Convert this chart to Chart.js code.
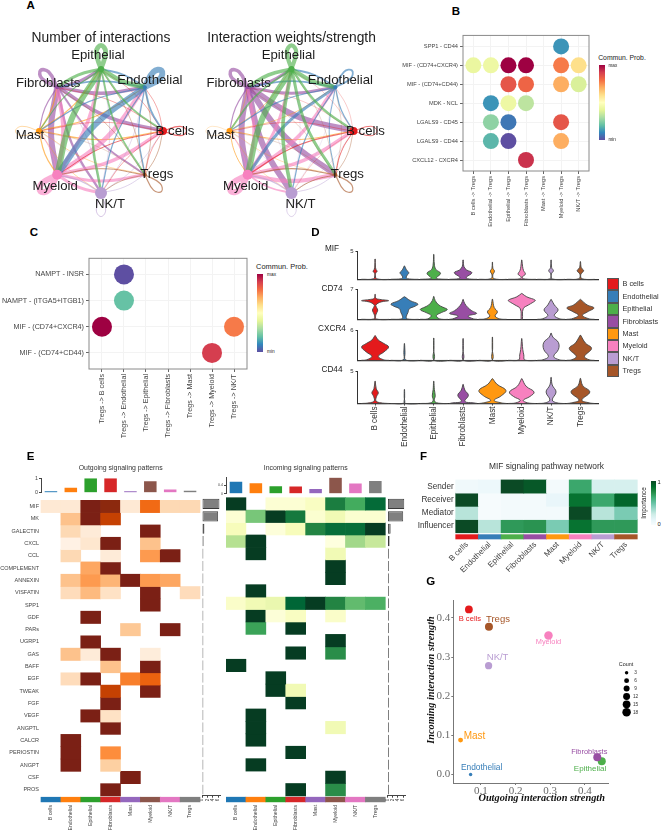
<!DOCTYPE html>
<html lang="en">
<head>
<meta charset="UTF-8">
<title>Treg communication panels</title>
<script src="https://cdn.jsdelivr.net/npm/chart.js"></script>
<style>
  html, body { margin: 0; background: #fff; }
  #page { position: relative; width: 661px; height: 831px; overflow: hidden; font-family: "Liberation Sans", Arial, sans-serif; color: #222; }
  #page canvas { position: absolute; }
  .t { position: absolute; white-space: nowrap; line-height: 1; transform: translate(-50%, -50%); }
  .l { position: absolute; white-space: nowrap; line-height: 1; transform: translateY(-50%); }
  .swatch { position: absolute; box-sizing: border-box; border: 1px solid #555; }
  .bar { position: absolute; }
</style>
</head>
<body>
<div id="page"></div>
<script>
// ---------- data ----------
const cellTypes = ['B cells', 'Endothelial', 'Epithelial', 'Fibroblasts', 'Mast', 'Myeloid', 'NK/T', 'Tregs'];
const cellColors = ['#e41a1c', '#377eb8', '#4daf4a', '#984ea3', '#ff9810', '#f781bf', '#b99dd2', '#a65628'];
const tableauColors = ['#1f77b4', '#ff7f0e', '#2ca02c', '#d62728', '#9467bd', '#8c564b', '#e377c2', '#7f7f7f'];

// panel A, nodes go clockwise from the top
const nodeNames = ['Epithelial', 'Endothelial', 'B cells', 'Tregs', 'NK/T', 'Myeloid', 'Mast', 'Fibroblasts'];
const nodeColors = ['#4daf4a', '#377eb8', '#e41a1c', '#a65628', '#b99dd2', '#f781bf', '#ff9810', '#984ea3'];
const nodeX = [0, 0.707, 1, 0.707, 0, -0.707, -1, -0.707];
const nodeY = [1, 0.707, 0, -0.707, -1, -0.707, 0, 0.707];
const nodeSizes = [3, 2, 4, 2, 6, 5, 3, 2];
const interactionCounts = [
  [4, 4, 1.5, 1.5, 2, 5, 1, 2.5],
  [1.5, 5, 1.5, 1, 1, 5, 1, 1.5],
  [.5, .5, 1, .5, .5, .8, .5, .5],
  [.5, .5, .6, 1, .6, .8, .3, .5],
  [.5, .5, .5, .6, .8, 1, .3, .5],
  [3, 4, 3, 2.5, 2.5, 5, .8, 3.5],
  [1, 1, 1, .5, .5, 1, .5, 1],
  [3, 3, 3, 1.5, 2, 5, 1, 3]
];
const interactionWeights = [
  [3.5, 3.5, 2, 2.5, 3, 5, 1.5, 3],
  [1.5, 1.5, 1, .8, 1, 2.5, 1, 1.5],
  [.3, .3, .8, .8, .3, 1, .5, .3],
  [.3, .3, .5, 1, .8, 1, .3, .3],
  [.3, .3, .3, .6, .6, 1, .3, .3],
  [2.5, 3, 3, 3.5, 1.5, 5, .8, 2.5],
  [.6, .6, .8, .4, .4, .8, .3, .5],
  [2.5, 2.5, 5, 5, 5, 5, 1, 3]
];

// panel B
const pairsB = ['SPP1 - CD44', 'MIF - (CD74+CXCR4)', 'MIF - (CD74+CD44)', 'MDK - NCL', 'LGALS9 - CD45', 'LGALS9 - CD44', 'CXCL12 - CXCR4'];
const sourcesB = ['B cells -> Tregs', 'Endothelial -> Tregs', 'Epithelial -> Tregs', 'Fibroblasts -> Tregs', 'Mast -> Tregs', 'Myeloid -> Tregs', 'NK/T -> Tregs'];
const probB = [
  [null, null, null, null, null, .12, null],
  [.42, .43, 1, 1, null, .78, .6],
  [null, null, .85, .82, null, .7, .38],
  [null, .12, .43, .33, null, null, null],
  [null, .26, .07, null, null, .85, null],
  [null, .18, 0, null, null, .7, null],
  [null, null, null, .92, null, null, null]
];

// panel C
const pairsC = ['NAMPT - INSR', 'NAMPT - (ITGA5+ITGB1)', 'MIF - (CD74+CXCR4)', 'MIF - (CD74+CD44)'];
const targetsC = ['Tregs -> B cells', 'Tregs -> Endothelial', 'Tregs -> Epithelial', 'Tregs -> Fibroblasts', 'Tregs -> Mast', 'Tregs -> Myeloid', 'Tregs -> NK/T'];
const probC = [
  [null, 0, null, null, null, null, null],
  [null, .2, null, null, null, null, null],
  [1, null, null, null, null, null, .78],
  [null, null, null, null, null, .9, null]
];

// panel D, each violin is a list of [expression, half width]
const violinMIF = [
  [[0, .47], [.12, .05], [.9, .012], [1.2, .03], [1.48, .07], [1.8, .03], [2.4, .01], [3.67, .004]],
  [[0, .47], [.12, .1], [.4, .06], [.8, .1], [1.2, .15], [1.7, .07], [2.43, .004]],
  [[0, .47], [.12, .1], [.3, .09], [1.1, .23], [1.8, .07], [2.76, .02], [4.5, .004]],
  [[0, .47], [.12, .15], [.38, .11], [1.2, .3], [1.7, .12], [2.3, .03], [3.5, .004]],
  [[0, .47], [.12, .05], [.8, .012], [1.48, .07], [2, .015], [3.1, .004]],
  [[0, .47], [.12, .04], [.5, .03], [.95, .125], [1.6, .06], [2.3, .03], [3.5, .004]],
  [[0, .47], [.12, .02], [1, .012], [1.57, .08], [2.1, .02], [3.5, .004]],
  [[0, .47], [.12, .05], [.9, .015], [1.57, .11], [2.1, .03], [3.2, .004]]
];
const violinCD74 = [
  [[0, .47], [.1, .04], [.94, .02], [1.6, .06], [2.2, .09], [2.8, .05], [3.4, .03], [4.1, .2], [4.4, .46], [4.7, .16], [4.95, .03], [5.9, .004]],
  [[0, .47], [.1, .1], [.6, .06], [1.6, .12], [2.5, .17], [3.1, .36], [3.6, .46], [4.4, .2], [5.3, .01]],
  [[0, .47], [.12, .2], [.9, .09], [1.6, .26], [2.3, .46], [2.9, .3], [3.4, .17], [4.4, .05], [5.4, .004]],
  [[0, .47], [.12, .35], [.8, .17], [1.4, .46], [2, .3], [2.8, .16], [3.8, .05], [4.7, .004]],
  [[0, .47], [.12, .25], [.8, .09], [1.75, .17], [2.8, .06], [4.75, .004]],
  [[0, .02], [2.5, .05], [3.4, .23], [4, .38], [4.5, .46], [5.3, .17], [6.1, .004]],
  [[0, .47], [.12, .3], [.94, .11], [2.2, .24], [3.4, .11], [4.7, .004]],
  [[0, .47], [.12, .3], [.94, .07], [1.8, .25], [2.7, .46], [3.4, .23], [4.7, .004]]
];
const violinCXCR4 = [
  [[0, .47], [.1, .3], [.8, .11], [1.7, .3], [2.7, .46], [3.4, .3], [4.1, .11], [5, .004]],
  [[0, .47], [.1, .04], [1.6, .02], [3.4, .004]],
  [[0, .47], [.08, .012], [2.5, .008], [4.5, .004]],
  [[0, .47], [.08, .012], [2.5, .008], [4.4, .004]],
  [[0, .47], [.08, .012], [2.5, .008], [4.7, .004]],
  [[0, .47], [.1, .1], [1.1, .07], [2.2, .035], [4.4, .004]],
  [[0, .47], [.12, .28], [.8, .09], [2.2, .25], [3.6, .25], [4.7, .06], [5.5, .004]],
  [[0, .47], [.12, .3], [.8, .14], [2.4, .38], [3.5, .17], [5.1, .004]]
];
const violinCD44 = [
  [[0, .47], [.1, .2], [.4, .03], [1.1, .05], [1.67, .11], [2.3, .04], [3.5, .004]],
  [[0, .47], [.08, .012], [1, .008], [2.2, .004]],
  [[0, .47], [.1, .1], [.5, .02], [1.2, .05], [2.2, .02], [3.5, .004]],
  [[0, .47], [.1, .35], [.33, .06], [1.3, .18], [2.1, .06], [3, .004]],
  [[0, .47], [.1, .3], [.5, .06], [1.2, .3], [2.05, .46], [3, .16], [3.9, .004]],
  [[0, .47], [.1, .2], [.5, .05], [1.1, .28], [1.8, .42], [2.7, .15], [3.9, .004]],
  [[0, .47], [.1, .2], [.55, .04], [1.8, .17], [2.9, .04], [4.1, .004]],
  [[0, .47], [.1, .3], [.55, .05], [1.8, .32], [2.8, .08], [3.95, .004]]
];

// panel E
const pathways = ['MIF', 'MK', 'GALECTIN', 'CXCL', 'CCL', 'COMPLEMENT', 'ANNEXIN', 'VISFATIN', 'SPP1', 'GDF', 'PARs', 'UGRP1', 'GAS', 'BAFF', 'EGF', 'TWEAK', 'FGF', 'VEGF', 'ANGPTL', 'CALCR', 'PERIOSTIN', 'ANGPT', 'CSF', 'PROS'];
const outgoing = [
  [.1, .1, 1, .95, .1, .62, .2, .2],
  [0, .3, 1, .8, 0, 0, 0, 0],
  [0, .2, .08, 0, 0, 1, 0, 0],
  [0, .03, .12, 1, 0, .3, 0, 0],
  [0, .2, 0, .08, 0, .45, 1, 0],
  [0, 0, .4, 1, 0, 0, 0, 0],
  [0, .3, .45, .35, 1, .45, .4, 0],
  [0, .18, .33, .15, 0, 1, 0, .18],
  [0, 0, 0, 0, 0, 1, 0, 0],
  [0, 0, 1, 0, 0, 0, 0, 0],
  [0, 0, 0, 0, .28, 0, 1, 0],
  [0, 0, 1, 0, 0, 0, 0, 0],
  [0, .3, .08, 1, 0, .07, 0, 0],
  [0, 0, 0, .3, 0, 1, 0, 0],
  [0, .18, 1, 0, .55, .65, 0, 0],
  [0, 0, 0, .8, 0, 1, 0, 0],
  [0, 0, 0, 1, 0, 0, 0, 0],
  [0, 0, 1, .15, 0, 0, 0, 0],
  [0, 0, 0, 1, 0, 0, 0, 0],
  [0, 1, 0, 0, 0, 0, 0, 0],
  [0, 1, 0, .5, 0, 0, 0, 0],
  [0, 1, 0, .25, 0, 0, 0, 0],
  [0, 0, 0, 0, 1, 0, 0, 0],
  [0, 0, 0, 1, 0, 0, 0, 0]
];
const incoming = [
  [1, 0, .05, .05, .1, .78, .62, .86],
  [.05, .5, 1, .8, .06, .15, .06, .06],
  [.12, 0, .03, .12, .75, .85, .85, 1],
  [.35, 1, 0, 0, 0, .02, .4, .3],
  [0, 1, 0, 0, 0, .15, 0, 0],
  [0, 0, 0, 0, 0, 1, 0, 0],
  [0, 0, 0, 0, 0, 1, 0, 0],
  [0, 1, 0, 0, 0, 0, 0, 0],
  [.08, .15, .18, .88, 1, .75, .55, .6],
  [0, 1, .04, .1, 0, .08, 0, 0],
  [0, .65, 0, 1, 0, 0, 0, 0],
  [0, 0, 0, 0, 0, 1, 0, 0],
  [0, 0, 0, 1, 0, .72, 0, 0],
  [1, 0, 0, 0, 0, 0, 0, 0],
  [0, 0, 1, 0, 0, 0, 0, 0],
  [0, 0, 1, .15, 0, 0, 0, 0],
  [0, 0, 0, 1, 0, 0, 0, 0],
  [0, 1, 0, 0, 0, 0, 0, 0],
  [0, 1, 0, 0, 0, .15, 0, 0],
  [0, 1, 0, 0, 0, 0, 0, 0],
  [0, 0, 0, 1, 0, 0, 0, 0],
  [0, 1, 0, 0, 0, 0, 0, 0],
  [0, 0, 0, 0, 0, 1, 0, 0],
  [0, 0, 0, 1, 0, .72, 0, 0]
];
const outgoingTop = [.1, .35, 1, 1, .1, .8, .22, .13];
const incomingTop = [.57, .49, .35, .34, .23, .75, .48, .6];
const outgoingTotals = [6.5, 6, .9, .6, .5, .5, .5, .5, .5, .5, .5, .5, .5, .5, .5, .5, .5, .5, .5, .5, .5, .5, .5, .5];
const incomingTotals = [6.4, 6, 1.2, .8, .5, .5, .5, .5, .5, .5, .5, .5, .5, .5, .5, .5, .5, .5, .5, .5, .5, .5, .5, .5];

// panel F
const roles = ['Sender', 'Receiver', 'Mediator', 'Influencer'];
const importance = [
  [.05, .07, 1, .95, .03, .65, .2, .2],
  [1, .01, .03, .03, .1, .85, .65, .9],
  [.3, .01, .03, .03, .03, 1, .3, .45],
  [1, .3, .7, .72, .45, .85, .7, .7]
];

// panel G
const outgoingStrength = [.065, .07, .449, .436, .041, .295, .122, .123];
const incomingStrength = [.4215, 0, .034, .044, .088, .355, .278, .377];
const linkCounts = [15, 3, 16, 16, 6, 18, 13, 16];
const countLevels = [3, 6, 9, 12, 15, 18];

// palettes
const spectral = ['#5e4fa2', '#3288bd', '#66c2a5', '#abdda4', '#e6f598', '#ffffbf', '#fee08b', '#fdae61', '#f46d43', '#d53e4f', '#9e0142'];
const orangePal = ['#fff5eb', '#fee6ce', '#fdd0a2', '#fdae6b', '#fd8d3c', '#f16913', '#d94801', '#a63603', '#7b2015'];
const greenPal = ['#ffffe5', '#f7fcb9', '#d9f0a3', '#addd8e', '#78c679', '#41ab5d', '#238443', '#006837', '#063c22'];
const buGnPal = ['#f7fcfd', '#e5f5f9', '#ccece6', '#99d8c9', '#66c2a4', '#41ae76', '#238b45', '#006d2c', '#0b4a25'];

// ---------- helpers ----------
const page = document.getElementById('page');
const SANS = '"Liberation Sans", Arial, sans-serif';
const SERIF = '"Liberation Serif", "Times New Roman", serif';
Chart.defaults.font.family = SANS;
Chart.defaults.animation = false;
Chart.defaults.responsive = false;
Chart.defaults.devicePixelRatio = 1;
Chart.defaults.plugins.legend.display = false;
Chart.defaults.plugins.tooltip.enabled = false;

function colorAt(pal, v) {
  const p = Math.max(0, Math.min(1, v)) * (pal.length - 1);
  const i = Math.min(Math.floor(p), pal.length - 2), f = p - i;
  const hex = s => [1, 3, 5].map(k => parseInt(s.substr(k, 2), 16));
  const a = hex(pal[i]), b = hex(pal[i + 1]);
  return `rgb(${a.map((c, k) => Math.round(c + (b[k] - c) * f)).join(',')})`;
}

// canvas whose plot area lands exactly on the given rectangle
function frame(pL, pT, pR, pB, mL, mT, mR, mB) {
  const left = Math.floor(pL - mL), top = Math.floor(pT - mT);
  const w = Math.ceil(pR + mR) - left, h = Math.ceil(pB + mB) - top;
  const c = document.createElement('canvas');
  c.width = w; c.height = h;
  c.style.left = left + 'px'; c.style.top = top + 'px';
  page.appendChild(c);
  return {
    ctx: c.getContext('2d'),
    layout: { autoPadding: false, padding: { top: pT - top, right: left + w - pR, left: 0, bottom: 0 } },
    fitY: s => { s.width = pL - left; },
    fitX: s => { s.height = top + h - pB; }
  };
}

function text(str, x, y, size, extra) {
  const d = document.createElement('div');
  d.className = 't';
  d.textContent = str;
  d.style.cssText = `left:${x}px;top:${y}px;font-size:${size}px;${extra || ''}`;
  page.appendChild(d);
  return d;
}
function leftText(str, x, y, size, extra) {
  const d = text(str, x, y, size, extra);
  d.className = 'l';
  return d;
}
function colorBar(x, y, w, h) {
  const d = document.createElement('div');
  d.className = 'bar';
  d.style.cssText = `left:${x}px;top:${y}px;width:${w}px;height:${h}px;background:linear-gradient(to top,${spectral.join(',')})`;
  page.appendChild(d);
}

const noGrid = { display: false, drawTicks: false };
const hiddenAxis = (min, max, fit) => ({
  type: 'linear', min, max, afterFit: fit,
  grid: noGrid, border: { display: false }, ticks: { display: false }
});
const fixedTicks = vals => s => { s.ticks = vals.map(v => ({ value: v })); };

// gray box around the plot
const boxPlugin = {
  id: 'boxPlugin',
  afterDraw(chart) {
    const a = chart.chartArea, c = chart.ctx;
    c.save();
    c.strokeStyle = '#8a8a8a';
    c.lineWidth = 1;
    c.strokeRect(a.left, a.top, a.right - a.left, a.bottom - a.top);
    c.restore();
  }
};

// text tied to a data point, shifted by a few pixels
function pointLabels(list) {
  return {
    id: 'pointLabels',
    afterDraw(chart) {
      const c = chart.ctx;
      c.save();
      c.textAlign = 'center';
      c.textBaseline = 'middle';
      list.forEach(l => {
        c.font = l.font;
        c.fillStyle = l.color;
        c.fillText(l.text, chart.scales.x.getPixelForValue(l.x) + l.dx, chart.scales.y.getPixelForValue(l.y) + l.dy);
      });
      c.restore();
    }
  };
}

// ---------- panel A ----------
function network(cx, weights) {
  const f = frame(cx - 100, 41, cx + 100, 221, 0, 0, 0, 0);
  const edges = [];
  weights.forEach((row, i) => row.forEach((w, j) => {
    const col = nodeColors[i] + 'a0';
    const ax = nodeX[i], ay = nodeY[i], bx = nodeX[j], by = nodeY[j];
    let pts;
    if (i === j) {
      const px = -ay, py = ax, s = .38;
      pts = [
        { x: ax, y: ay },
        { x: ax + ax * s * .72 + px * s * .2, y: ay + ay * s * .72 + py * s * .2 },
        { x: ax + ax * s, y: ay + ay * s },
        { x: ax + ax * s * .72 - px * s * .2, y: ay + ay * s * .72 - py * s * .2 },
        { x: ax, y: ay }
      ];
    } else {
      const bend = .07;
      pts = [
        { x: ax, y: ay },
        { x: (ax + bx) / 2 + (by - ay) * bend, y: (ay + by) / 2 - (bx - ax) * bend },
        { x: bx, y: by }
      ];
    }
    edges.push({ data: pts, showLine: true, borderColor: col, borderWidth: w * 1.2, tension: .45, pointRadius: 0, clip: false });
  }));
  const nodes = {
    data: nodeX.map((x, i) => ({ x, y: nodeY[i] })),
    pointRadius: nodeSizes, pointBackgroundColor: nodeColors, pointBorderWidth: 0, clip: false
  };
  const offs = [[-3, -14], [5, -7], [12, 0], [12, 0], [9, 11], [-2, 12], [-9, 4], [-9, -4]];
  new Chart(f.ctx, {
    type: 'scatter',
    data: { datasets: [nodes, ...edges] },
    options: {
      layout: f.layout,
      elements: { line: { capBezierPoints: false } },
      scales: { x: hiddenAxis(-100 / 62, 100 / 62, f.fitX), y: hiddenAxis(-90 / 62, 90 / 62, f.fitY) }
    },
    plugins: [pointLabels(nodeNames.map((n, i) => ({
      text: n, x: nodeX[i], y: nodeY[i], dx: offs[i][0], dy: offs[i][1], font: '13.2px ' + SANS, color: '#1c1c1c'
    })))]
  });
}
network(101, interactionCounts);
network(291.5, interactionWeights);
text('Number of interactions', 101, 38, 13.8);
text('Interaction weights/strength', 291.5, 38, 13.8);

// ---------- panels B and C ----------
function bubbles(rect, xNames, yNames, probs, r, fontSize, ml, mb) {
  const [l, t, rgt, b] = rect;
  const f = frame(l, t, rgt, b, ml, 2, 2, mb);
  const pts = [];
  probs.forEach((row, yi) => row.forEach((v, xi) => {
    if (v !== null) pts.push({ x: xi + 1, y: yi + 1, r, v });
  }));
  const n = xNames.length, m = yNames.length;
  const tickStyle = { color: '#f3f3f3', tickColor: '#666', tickLength: 3 };
  new Chart(f.ctx, {
    type: 'bubble',
    data: { datasets: [{ data: pts, backgroundColor: pts.map(p => colorAt(spectral, p.v)), borderWidth: 0, clip: false }] },
    options: {
      layout: f.layout,
      scales: {
        x: {
          type: 'linear', min: .41, max: n + .59, afterFit: f.fitX, afterBuildTicks: fixedTicks(xNames.map((_, i) => i + 1)),
          grid: tickStyle, border: { display: false },
          ticks: { autoSkip: false, minRotation: 90, maxRotation: 90, padding: 2, color: '#444', font: { size: fontSize }, callback: v => xNames[v - 1] }
        },
        y: {
          type: 'linear', reverse: true, min: m === 4 ? .385 : .42, max: m + (m === 4 ? .615 : .58), afterFit: f.fitY, afterBuildTicks: fixedTicks(yNames.map((_, i) => i + 1)),
          grid: tickStyle, border: { display: false },
          ticks: { autoSkip: false, padding: 2, color: '#444', font: { size: fontSize }, callback: v => yNames[v - 1] }
        }
      }
    },
    plugins: [boxPlugin]
  });
}
bubbles([463, 32, 589, 171], sourcesB, pairsB, probB, 8, 5.7, 62, 56);
text('Commun. Prob.', 622, 58, 6.8);
colorBar(599.3, 64.7, 5.7, 75.3);
leftText('max', 608.5, 65.5, 4.6);
leftText('min', 608.5, 140, 4.6);

bubbles([89, 254, 247, 369], targetsC, pairsC, probC, 10, 7.2, 89, 72);
text('Commun. Prob.', 282, 267, 7.4);
colorBar(257, 274.3, 6.3, 78);
leftText('max', 267, 274.5, 4.8);
leftText('min', 267, 352, 4.8);

// ---------- panel D ----------
function violinRow(rect, profiles, yMax, showNames) {
  const [l, t, r, b] = rect;
  const f = frame(l, t, r, b, 18, 2, 2, showNames ? 50 : 1.5);
  const datasets = profiles.map((prof, i) => {
    const left = prof.map(([y, h]) => ({ x: i + 1 - h, y }));
    const right = prof.slice().reverse().map(([y, h]) => ({ x: i + 1 + h, y }));
    return {
      data: [...left, ...right, left[0]], fill: 'shape', tension: .4, pointRadius: 0, clip: false,
      backgroundColor: cellColors[i], borderColor: '#454545', borderWidth: .9
    };
  });
  new Chart(f.ctx, {
    type: 'line',
    data: { datasets },
    options: {
      layout: f.layout,
      elements: { line: { capBezierPoints: false } },
      scales: {
        x: {
          type: 'linear', min: .4, max: 8.6, afterFit: f.fitX, afterBuildTicks: fixedTicks(showNames ? cellTypes.map((_, i) => i + 1) : []),
          grid: { display: showNames, drawTicks: showNames, drawOnChartArea: false, tickColor: '#333', tickLength: 2 },
          border: { color: '#333', width: 1.2 },
          ticks: { display: showNames, autoSkip: false, minRotation: 90, maxRotation: 90, padding: 1, color: '#333', font: { size: 8.2 }, callback: v => cellTypes[v - 1] }
        },
        y: {
          type: 'linear', min: 0, max: yMax, afterFit: f.fitY, afterBuildTicks: fixedTicks([yMax]),
          grid: { drawOnChartArea: false, tickColor: '#333', tickLength: 2 },
          border: { color: '#333', width: 1 },
          ticks: { padding: 2, color: '#333', font: { size: 6 } }
        }
      }
    }
  });
}
violinRow([357.5, 248, 598, 283], violinMIF, 5, false);
violinRow([357.5, 286, 598, 323.5], violinCD74, 7, false);
violinRow([357.5, 327, 598, 364], violinCXCR4, 6, false);
violinRow([357.5, 368.3, 598, 403.5], violinCD44, 5, true);
['MIF', 'CD74', 'CXCR4', 'CD44'].forEach((g, i) => text(g, 332, [249, 289, 329, 370][i], 8.2));

cellTypes.forEach((n, i) => {
  const s = document.createElement('div');
  s.className = 'swatch';
  s.style.cssText = `left:607px;top:${278 + i * 12.4}px;width:11.5px;height:12.4px;background:${cellColors[i]}`;
  page.appendChild(s);
  leftText(n, 622.5, 284.3 + i * 12.4, 7.3, 'color:#333');
});

// ---------- panels E and F, heatmaps are floating bars ----------
function heatmap(opt) {
  const [l, t, r, b] = opt.rect;
  const f = frame(l, t, r, b, opt.ml, 2, 2, opt.mb);
  const datasets = opt.rows.map((_, ri) => ({
    data: opt.values[ri].map(v => v > 0 ? [ri, ri + 1] : null),
    backgroundColor: opt.values[ri].map(v => colorAt(opt.palette, v))
  }));
  datasets.push({ data: cellTypes.map(() => opt.strip), backgroundColor: opt.stripColors });
  new Chart(f.ctx, {
    type: 'bar',
    data: { labels: cellTypes, datasets },
    options: {
      layout: f.layout,
      datasets: { bar: { barPercentage: 1, categoryPercentage: 1, grouped: false, borderSkipped: false, clip: false } },
      scales: {
        x: {
          afterFit: f.fitX, grid: noGrid, border: { display: false },
          ticks: { autoSkip: false, minRotation: opt.rotation, maxRotation: opt.rotation, padding: opt.namePad, color: '#444', font: { size: opt.nameSize } }
        },
        y: {
          type: 'linear', reverse: true, min: 0, max: opt.strip[1], afterFit: f.fitY,
          afterBuildTicks: fixedTicks(opt.showRows ? opt.rows.map((_, i) => i + .5) : []),
          grid: noGrid, border: { display: false },
          ticks: { display: opt.showRows, autoSkip: false, padding: opt.rowPad, color: opt.rowColor, font: { size: opt.rowSize }, callback: v => opt.rows[v - .5] }
        }
      }
    }
  });
}
heatmap({ rect: [41, 497.7, 200, 801.9], rows: pathways, values: outgoing, palette: orangePal, strip: [24.1, 24.48], stripColors: tableauColors,
  ml: 41, mb: 30, rotation: 90, namePad: 3, nameSize: 5.2, showRows: true, rowPad: 2, rowSize: 5.5, rowColor: '#444' });
heatmap({ rect: [226, 497.7, 385.3, 801.9], rows: pathways, values: incoming, palette: greenPal, strip: [24.1, 24.48], stripColors: tableauColors,
  ml: 0, mb: 30, rotation: 90, namePad: 3, nameSize: 5.2, showRows: false });
heatmap({ rect: [455.7, 475, 637.3, 539], rows: roles, values: importance, palette: buGnPal, strip: [4.14, 4.47], stripColors: cellColors,
  ml: 40, mb: 34, rotation: 45, namePad: 1, nameSize: 8, showRows: true, rowPad: 2, rowSize: 8.2, rowColor: '#333' });

function topBars(rect, values, max, tickVals, tickSize) {
  const [l, t, r, b] = rect;
  const f = frame(l, t, r, b, 14, 2, 1, 1);
  new Chart(f.ctx, {
    type: 'bar',
    data: { labels: cellTypes, datasets: [{ data: values, backgroundColor: tableauColors, barPercentage: .63, categoryPercentage: 1 }] },
    options: {
      layout: f.layout,
      scales: {
        x: { afterFit: f.fitX, grid: noGrid, border: { display: false }, ticks: { display: false } },
        y: {
          type: 'linear', min: 0, max, afterFit: f.fitY, afterBuildTicks: fixedTicks(tickVals),
          grid: { drawOnChartArea: false, tickColor: '#444', tickLength: 2 }, border: { color: '#444' },
          ticks: { padding: 1, color: '#444', font: { size: tickSize }, callback: v => String(v) }
        }
      }
    }
  });
}
topBars([41, 476, 200, 496], outgoingTop, 1, [0, .5, 1], 5.4);
topBars([226, 476, 385.3, 496], incomingTop, .78, [0, .2, .4, .6], 3.6);
text('Outgoing signaling patterns', 120.7, 468, 6.9, 'color:#333');
text('Incoming signaling patterns', 305.7, 468, 6.9, 'color:#333');

function sideBars(rect, values) {
  const [l, t, r, b] = rect;
  const f = frame(l, t, r, b, 2, 1, 2, 12);
  new Chart(f.ctx, {
    type: 'bar',
    data: { labels: pathways, datasets: [{ data: values, backgroundColor: '#808080', borderColor: '#3a3a3a', borderWidth: .9, barPercentage: .82, categoryPercentage: 1, borderSkipped: false }] },
    options: {
      indexAxis: 'y',
      layout: f.layout,
      scales: {
        x: {
          type: 'linear', min: 0, max: 7, afterFit: f.fitX, afterBuildTicks: fixedTicks([0, 2, 4, 6]),
          grid: { drawOnChartArea: false, tickColor: '#444', tickLength: 2 }, border: { color: '#444' },
          ticks: { autoSkip: false, minRotation: 90, maxRotation: 90, padding: 1, color: '#444', font: { size: 4.6 }, callback: v => String(v) }
        },
        y: { afterFit: f.fitY, grid: noGrid, border: { display: false }, ticks: { display: false } }
      }
    }
  });
}
sideBars([202, 497.7, 222.3, 795.7], outgoingTotals);
sideBars([387.5, 497.7, 408, 795.7], incomingTotals);

text('MIF signaling pathway network', 546.5, 466, 8.4, 'color:#333');
const fBar = document.createElement('div');
fBar.className = 'bar';
fBar.style.cssText = `left:650.7px;top:480.7px;width:5.3px;height:44.3px;background:linear-gradient(to top,${buGnPal.join(',')})`;
page.appendChild(fBar);
leftText('1', 657.5, 483, 5.8);
leftText('0', 657.5, 525, 5.8);
text('Importance', 644, 503, 6.3, 'transform:translate(-50%,-50%) rotate(-90deg);');

// ---------- panel G ----------
const sizeOf = c => Math.sqrt(c);
const fG = frame(453.3, 595, 608, 783, 24, 2, 4, 14);
const offsG = [
  [1, 9, 7.6], [11, -7, 8.4], [-11.7, 8, 8], [-8, -5.7, 7.4], [14, -3.5, 10], [0, 6, 7.4], [9, -8, 9.5], [9, -7, 9.5]
];
new Chart(fG.ctx, {
  type: 'scatter',
  data: { datasets: [{
    data: outgoingStrength.map((x, i) => ({ x, y: incomingStrength[i] })),
    pointRadius: linkCounts.map(sizeOf), pointBackgroundColor: cellColors, pointBorderWidth: 0, clip: false
  }] },
  options: {
    layout: fG.layout,
    scales: {
      x: {
        type: 'linear', min: .02, max: .467, afterFit: fG.fitX, afterBuildTicks: fixedTicks([.1, .2, .3, .4]),
        grid: { drawOnChartArea: false, tickColor: '#777', tickLength: 2 }, border: { color: '#777' },
        ticks: { padding: 0, color: '#6a6a6a', font: { family: SERIF, size: 11 }, callback: v => v.toFixed(1) }
      },
      y: {
        type: 'linear', min: -.0215, max: .444, afterFit: fG.fitY, afterBuildTicks: fixedTicks([0, .1, .2, .3, .4]),
        grid: { drawOnChartArea: false, tickColor: '#777', tickLength: 2 }, border: { color: '#777' },
        ticks: { padding: 1, color: '#6a6a6a', font: { family: SERIF, size: 11 }, callback: v => v.toFixed(1) }
      }
    }
  },
  plugins: [pointLabels(cellTypes.map((n, i) => ({
    text: n, x: outgoingStrength[i], y: incomingStrength[i], dx: offsG[i][0], dy: offsG[i][1],
    font: offsG[i][2] + 'px ' + SANS, color: cellColors[i]
  })))]
});
const gTitle = `font-family:${SERIF.replace(/"/g, "'")};font-weight:bold;font-style:italic;color:#111;`;
text('Outgoing interaction strength', 541.7, 798, 10.3, gTitle);
text('Incoming interaction strength', 430.7, 680, 10.3, gTitle + 'transform:translate(-50%,-50%) rotate(-90deg);');

// size legend of panel G
const fLeg = frame(622, 668, 645, 717, 0, 0, 0, 0);
new Chart(fLeg.ctx, {
  type: 'scatter',
  data: { datasets: [{
    data: countLevels.map((c, i) => ({ x: 1, y: i })),
    pointRadius: countLevels.map(sizeOf), pointBackgroundColor: '#000', pointBorderWidth: 0, clip: false
  }] },
  options: {
    layout: fLeg.layout,
    scales: { x: hiddenAxis(0, 5, fLeg.fitX), y: Object.assign(hiddenAxis(-.6, 5.6, fLeg.fitY), { reverse: true }) }
  },
  plugins: [pointLabels(countLevels.map((c, i) => ({ text: String(c), x: 1, y: i, dx: 9, dy: 0, font: '4.8px ' + SANS, color: '#333' })))]
});
text('Count', 626, 665, 5.4);

// ---------- panel letters ----------
[['A', 30.7, 6], ['B', 456, 12], ['C', 34, 232.5], ['D', 315.5, 232.5], ['E', 30.5, 457], ['F', 423.5, 457], ['G', 430.7, 581.7]]
  .forEach(p => text(p[0], p[1], p[2], 11.5, 'font-weight:bold;color:#000;'));
</script>
</body>
</html>
